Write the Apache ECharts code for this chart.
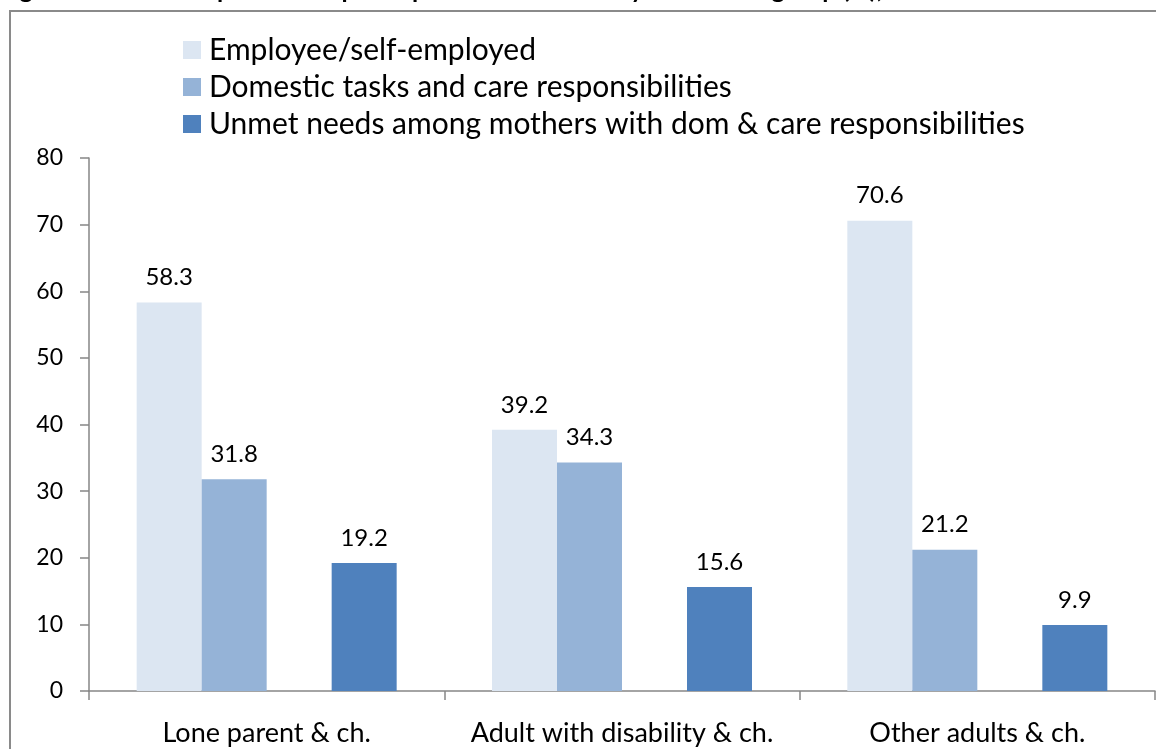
<!DOCTYPE html>
<html>
<head>
<meta charset="utf-8">
<script src="https://cdn.jsdelivr.net/npm/echarts@6/dist/echarts.min.js"></script>
<style>
html,body{margin:0;padding:0;background:#fff;}
#chart{width:1156px;height:749px;}
</style>
</head>
<body>
<div id="chart"></div>
<script>
const titleText = 'Figure 5: Main occupation and participation of mothers by household group (%), 2011';
const categories = ['Lone parent & ch.', 'Adult with disability & ch.', 'Other adults & ch.'];
const seriesNames = ['Employee/self-employed', 'Domestic tasks and care responsibilities', 'Unmet needs among mothers with dom & care responsibilities'];
const employed = [58.3, 39.2, 70.6];
const domestic = [31.8, 34.3, 21.2];
const blank = [null, null, null];
const unmet = [19.2, 15.6, 9.9];
const yTicks = [0, 10, 20, 30, 40, 50, 60, 70, 80];

const FONT = 'Lato';
const colors = ['#DCE6F2', '#95B3D7', '#4F81BD'];

const chart = echarts.init(document.getElementById('chart'), null, {renderer: 'canvas'});

function barSeries(name, data, color) {
  return {
    name: name,
    type: 'bar',
    data: data,
    barWidth: 65,
    barGap: '0%',
    itemStyle: {color: color},
    label: {
      show: true,
      position: 'top',
      distance: 13,
      color: '#000',
      fontFamily: FONT,
      fontSize: 24,
      formatter: p => p.value == null ? '' : p.value.toFixed(1)
    }
  };
}

chart.setOption({
  backgroundColor: '#fff',
  animation: false,
  graphic: [
    {
      type: 'rect',
      shape: {x: 10, y: 11, width: 1300, height: 900},
      style: {fill: 'none', stroke: '#8a8a8a', lineWidth: 2},
      z: -1
    },
    {
      type: 'text',
      left: -1,
      top: -23,
      style: {
        text: titleText,
        fontFamily: FONT,
        fontWeight: 'bold',
        fontSize: 25,
        fill: '#000'
      }
    }
  ],
  legend: {
    orient: 'vertical',
    left: 178,
    top: 30,
    itemWidth: 18,
    itemHeight: 18,
    itemGap: 7,
    icon: 'rect',
    data: seriesNames,
    textStyle: {fontFamily: FONT, fontSize: 30, color: '#000', padding: [0, 0, 0, 3]}
  },
  grid: {left: 89, right: 1, top: 158, bottom: 58, containLabel: false},
  xAxis: {
    type: 'category',
    data: categories,
    axisLine: {show: true, lineStyle: {color: '#868686', width: 1.5}},
    axisTick: {show: true, length: 9, interval: 0, lineStyle: {color: '#868686', width: 1.5}},
    axisLabel: {margin: 29, color: '#000', fontFamily: FONT, fontSize: 27, interval: 0}
  },
  yAxis: {
    type: 'value',
    min: yTicks[0],
    max: yTicks[yTicks.length - 1],
    interval: 10,
    splitLine: {show: false},
    axisLine: {show: true, lineStyle: {color: '#868686', width: 1.5}},
    axisTick: {show: true, length: 9, lineStyle: {color: '#868686', width: 1.5}},
    axisLabel: {margin: 26, color: '#000', fontFamily: FONT, fontSize: 23}
  },
  series: [
    barSeries(seriesNames[0], employed, colors[0]),
    barSeries(seriesNames[1], domestic, colors[1]),
    Object.assign(barSeries('', blank, 'rgba(0,0,0,0)'), {legendHoverLink: false}),
    barSeries(seriesNames[2], unmet, colors[2])
  ]
});
</script>
</body>
</html>
